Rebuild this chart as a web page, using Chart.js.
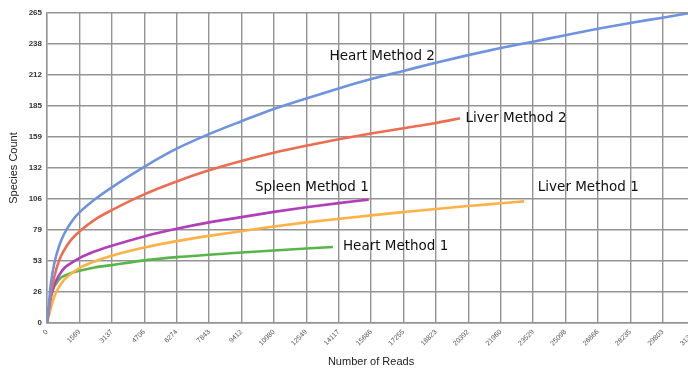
<!DOCTYPE html>
<html lang="en">
<head>
    <meta charset="UTF-8">
    <title>Species Count vs Number of Reads</title>
    <script src="https://cdn.jsdelivr.net/npm/chart.js"></script>
    <style>
        body {
            margin: 0;
            padding: 0;
            background: #ffffff;
            overflow: hidden;
        }
        /* wider than the window on purpose: the plot runs off the right edge */
        .chart-box {
            width: 706px;
            height: 369px;
        }
    </style>
</head>
<body>
    <div class="chart-box">
        <canvas id="rarefaction"></canvas>
    </div>

    <script>
        // Tick marks
        const xTickValues = [0, 1568.6, 3137.2, 4705.8, 6274.4, 7843, 9411.6, 10980.2, 12548.8, 14117.4, 15686,
            17254.6, 18823.2, 20391.8, 21960.4, 23529, 25097.6, 26666.2, 28234.8, 29803.4, 31372];
        const xTickLabels = ['0', '1569', '3137', '4706', '6274', '7843', '9412', '10980', '12549', '14117', '15686',
            '17255', '18823', '20392', '21960', '23529', '25098', '26666', '28235', '29803', '31372'];
        const yTickValues = [0, 26.5, 53, 79.5, 106, 132.5, 159, 185.5, 212, 238.5, 265];
        const yTickLabels = ['0', '26', '53', '79', '106', '132', '159', '185', '212', '238', '265'];

        // Reads sampled along the curves (each series stops at its own last read)
        const heart2Reads = [0, 60, 190, 355, 600, 840, 1165, 1569, 2300, 3137, 4706, 6274, 7843, 9412, 10980,
            12549, 14117, 15686, 17255, 18823, 20392, 21960, 23529, 25098, 26666, 28235, 29803, 31140];
        const heart2Counts = [0, 10, 34, 51, 66.5, 76.5, 86, 94.5, 105.5, 116, 133.5, 149, 161.5, 172.5, 183,
            192, 200.5, 208.5, 215.5, 222.5, 229, 235, 240.5, 246, 251.5, 256.5, 261, 265];

        const liver2Reads = [0, 60, 190, 355, 600, 840, 1165, 1569, 2300, 3137, 4706, 6274, 7843, 9412, 10980,
            12549, 14117, 15686, 17255, 18823, 19990];
        const liver2Counts = [0, 8.5, 25.6, 39.8, 54, 62.6, 71.1, 78.2, 88.2, 96.5, 110, 121, 130.5, 138.5, 145.5,
            151.5, 157, 162, 166.5, 171, 175];

        const spleen1Reads = [0, 60, 190, 355, 600, 840, 1165, 1569, 2300, 3137, 4706, 6274, 7843, 9412, 10980,
            12549, 14117, 15570];
        const spleen1Counts = [0, 8, 22.7, 32.7, 41.2, 47, 51.2, 55.5, 61.1, 66, 74, 80.5, 86, 90.5, 95,
            99, 102.5, 105.5];

        const liver1Reads = [0, 60, 190, 355, 600, 840, 1165, 1569, 2300, 3137, 4706, 6274, 7843, 9412, 10980,
            12549, 14117, 15686, 17255, 18823, 20392, 21960, 23100];
        const liver1Counts = [0, 4, 12.8, 22.7, 31.2, 37, 42.1, 47, 52.6, 57.5, 64.5, 70, 74.5, 78.5, 82.5,
            86, 89, 92, 94.8, 97.5, 100, 102.3, 104];

        const heart1Reads = [0, 60, 190, 355, 600, 840, 1165, 1569, 2300, 3137, 4706, 6274, 7843, 9412, 10980,
            12549, 13840];
        const heart1Counts = [0, 8.5, 22.7, 31.2, 37.6, 40.4, 42.7, 44.7, 47.5, 49.5, 53.5, 56.3, 58.3, 60.2, 62,
            63.7, 65];

        // Text placed beside the curves, in data units
        const curveLabels = [
            { text: 'Heart Method 2', reads: 13675, count: 228 },
            { text: 'Liver Method 2', reads: 20264, count: 175 },
            { text: 'Liver Method 1', reads: 23760, count: 116 },
            { text: 'Spleen Method 1', reads: 10066, count: 116 },
            { text: 'Heart Method 1', reads: 14326, count: 65.4 }
        ];

        function toPoints(xs, ys) {
            return xs.map((x, i) => ({ x: x, y: ys[i] }));
        }

        function line(label, xs, ys, color) {
            return {
                label: label,
                data: toPoints(xs, ys),
                borderColor: color,
                backgroundColor: color,
                borderWidth: 2.6,
                pointRadius: 0,
                cubicInterpolationMode: 'monotone',
                fill: false
            };
        }

        // draws the series names next to the lines
        const curveLabelPlugin = {
            id: 'curveLabels',
            afterDatasetsDraw(chart) {
                const ctx = chart.ctx;
                const xs = chart.scales.x;
                const ys = chart.scales.y;
                ctx.save();
                ctx.font = '13.5px "DejaVu Sans", sans-serif';
                ctx.fillStyle = '#111111';
                ctx.textAlign = 'left';
                ctx.textBaseline = 'middle';
                curveLabels.forEach(l => {
                    ctx.fillText(l.text, xs.getPixelForValue(l.reads), ys.getPixelForValue(l.count));
                });
                ctx.restore();
            }
        };

        const gridColor = '#949494';

        new Chart(document.getElementById('rarefaction'), {
            type: 'line',
            data: {
                datasets: [
                    line('Heart Method 2', heart2Reads, heart2Counts, '#6d93e1'),
                    line('Liver Method 2', liver2Reads, liver2Counts, '#ee6c4f'),
                    line('Spleen Method 1', spleen1Reads, spleen1Counts, '#b23fba'),
                    line('Liver Method 1', liver1Reads, liver1Counts, '#fdb146'),
                    line('Heart Method 1', heart1Reads, heart1Counts, '#57b64b')
                ]
            },
            options: {
                responsive: true,
                maintainAspectRatio: false,
                animation: false,
                layout: { padding: { top: 13, right: 0, bottom: 0, left: 0 } },
                plugins: {
                    legend: { display: false },
                    tooltip: { enabled: false }
                },
                scales: {
                    x: {
                        type: 'linear',
                        min: 0,
                        max: 31372,
                        afterBuildTicks: s => { s.ticks = xTickValues.map(v => ({ value: v })); },
                        afterFit: s => { s.height = 46; },
                        grid: { color: gridColor, lineWidth: 1.4, drawTicks: false },
                        border: { color: gridColor, width: 1.4 },
                        ticks: {
                            autoSkip: false,
                            minRotation: 45,
                            maxRotation: 45,
                            padding: 5,
                            color: '#555555',
                            font: { family: '"Liberation Sans", Arial, sans-serif', size: 7 },
                            callback: (v, i) => xTickLabels[i]
                        },
                        title: {
                            display: true,
                            text: 'Number of Reads',
                            color: '#222222',
                            padding: { top: 0, bottom: 0 },
                            font: { family: '"Liberation Sans", Arial, sans-serif', size: 11 }
                        }
                    },
                    y: {
                        min: 0,
                        max: 265,
                        afterBuildTicks: s => { s.ticks = yTickValues.map(v => ({ value: v })); },
                        afterFit: s => { s.width = 47; },
                        grid: { color: gridColor, lineWidth: 1.4, drawTicks: false },
                        border: { color: gridColor, width: 1.4 },
                        ticks: {
                            padding: 5,
                            color: '#333333',
                            font: { family: '"Liberation Sans", Arial, sans-serif', size: 8, weight: 'bold' },
                            callback: (v, i) => yTickLabels[i]
                        },
                        title: {
                            display: true,
                            text: 'Species Count',
                            color: '#222222',
                            padding: { top: 7, bottom: 0 },
                            font: { family: '"Liberation Sans", Arial, sans-serif', size: 11 }
                        }
                    }
                }
            },
            plugins: [curveLabelPlugin]
        });
    </script>
</body>
</html>
